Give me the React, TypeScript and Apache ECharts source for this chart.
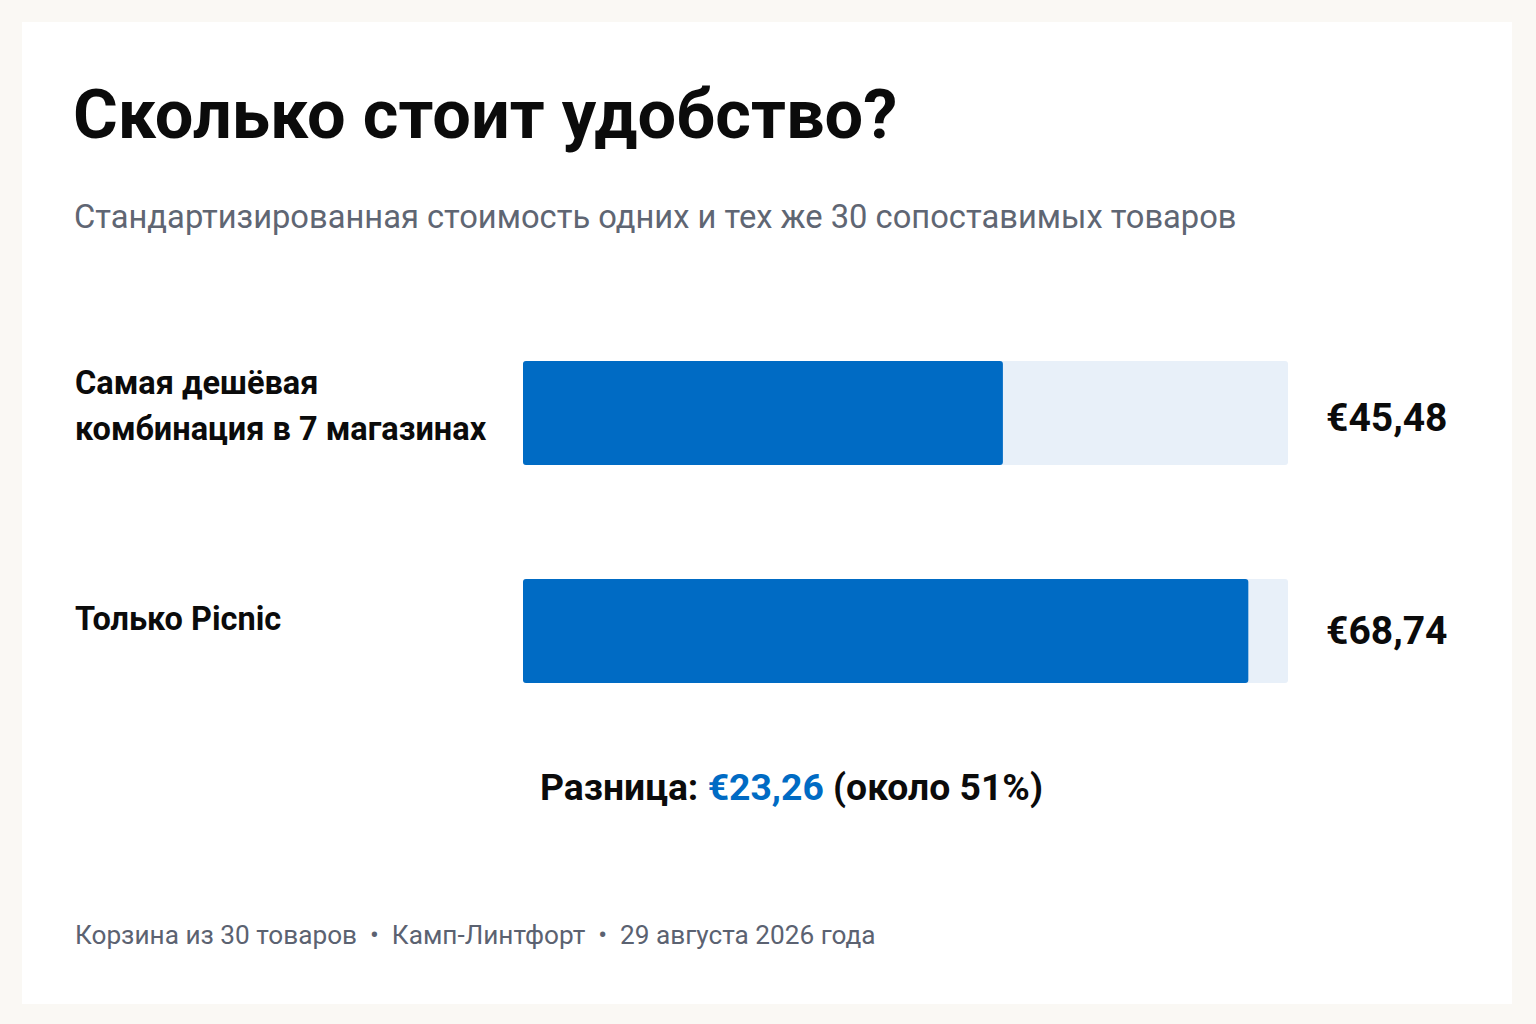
import { useEffect, useRef } from 'react'
import * as echarts from 'echarts'

// data
const categories = ['Самая дешёвая\nкомбинация в 7 магазинах', 'Только Picnic']
const values = [45.48, 68.74]
const axisMax = 72.5

const titleText = 'Сколько стоит удобство?'
const subtitleText = 'Стандартизированная стоимость одних и тех же 30 сопоставимых товаров'
const footerParts = ['Корзина из 30 товаров', 'Камп-Линтфорт', '29 августа 2026 года']

const FONT = 'Roboto, "Noto Sans", sans-serif'
const BLUE = '#006bc4'

const euro = (v: number) => '€' + v.toFixed(2).replace('.', ',')

export default function App() {
  const chartRef = useRef<HTMLDivElement>(null)

  useEffect(() => {
    document.body.style.margin = '0'
    if (!chartRef.current) return

    const chart = echarts.init(chartRef.current, undefined, { renderer: 'svg' })

    const diff = values[1] - values[0]
    const pct = Math.round((diff / values[0]) * 100)

    const option = {
      animation: false,
      backgroundColor: '#faf8f4',
      textStyle: { fontFamily: FONT },
      title: [
        {
          text: titleText,
          left: 73,
          top: 80,
          padding: 0,
          textStyle: { fontSize: 68.5, fontWeight: 'bold', color: '#0b0b0b', fontFamily: FONT }
        },
        {
          text: subtitleText,
          left: 74,
          top: 200,
          padding: 0,
          textStyle: { fontSize: 32.7, fontWeight: 'normal', color: '#5f6673', fontFamily: FONT }
        }
      ],
      graphic: [
        {
          type: 'rect',
          z: -10,
          shape: { x: 22, y: 22, width: 1490, height: 982 },
          style: { fill: '#ffffff' }
        },
        {
          type: 'text',
          left: 540,
          top: 768,
          style: {
            text: `{b|Разница: }{v|${euro(diff)}}{b| (около ${pct}%)}`,
            rich: {
              b: { fontSize: 37.3, fontWeight: 'bold', fill: '#0b0b0b', fontFamily: FONT },
              v: { fontSize: 37.3, fontWeight: 'bold', fill: BLUE, fontFamily: FONT }
            }
          }
        },
        {
          type: 'text',
          left: 75,
          top: 922,
          style: {
            text: footerParts.join('  •  '),
            fontSize: 26.2,
            fill: '#5b6271',
            fontFamily: FONT
          }
        }
      ],
      grid: { left: 523, right: 248, top: 304, bottom: 284 },
      xAxis: {
        type: 'value',
        min: 0,
        max: axisMax,
        show: false
      },
      yAxis: [
        {
          type: 'category',
          data: categories,
          inverse: true,
          axisLine: { show: false },
          axisTick: { show: false },
          axisLabel: {
            align: 'left',
            margin: 448,
            formatter: (value: string, index: number) =>
              value.split('\n').map((l) => `{t|${l}}`).join('\n') + (index === 0 ? '\n{s| }' : '\n{p| }'),
            rich: {
              t: { fontSize: 32.5, fontWeight: 'bold', color: '#0b0b0b', lineHeight: 46, fontFamily: FONT },
              s: { fontSize: 10, lineHeight: 14 },
              p: { fontSize: 10, lineHeight: 24 }
            }
          }
        },
        {
          type: 'category',
          data: values.map(euro),
          inverse: true,
          position: 'right',
          axisLine: { show: false },
          axisTick: { show: false },
          axisLabel: {
            align: 'left',
            margin: 38,
            formatter: (value: string, index: number) =>
              index === 0 ? `{g| }\n{n|${value}}` : `{n|${value}}`,
            rich: {
              n: { fontSize: 39, fontWeight: 'bold', color: '#0b0b0b', lineHeight: 46, fontFamily: FONT },
              g: { fontSize: 8, lineHeight: 10 }
            }
          }
        }
      ],
      series: [
        {
          type: 'bar',
          data: values,
          barWidth: 104,
          showBackground: true,
          backgroundStyle: { color: '#e8f0f9', borderRadius: 3 },
          itemStyle: { color: BLUE, borderRadius: 3 }
        }
      ]
    }

    chart.setOption(option)

    return () => {
      chart.dispose()
    }
  }, [])

  return <div ref={chartRef} style={{ width: 1536, height: 1024 }} />
}
